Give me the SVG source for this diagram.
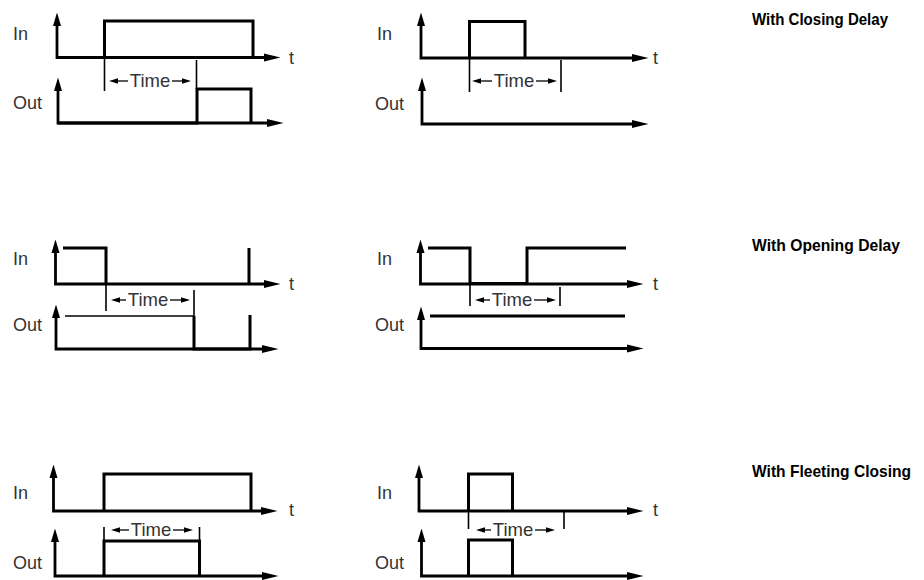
<svg xmlns="http://www.w3.org/2000/svg" width="924" height="580" viewBox="0 0 924 580">
<style>
.lbl{font-family:"Liberation Sans",Arial,sans-serif;font-size:18px;fill:#333}
.tm{font-family:"Liberation Sans",Arial,sans-serif;font-size:18.5px;fill:#333;text-anchor:middle}
.ttl{font-family:"Liberation Sans",Arial,sans-serif;font-size:16.5px;font-weight:bold;fill:#000}
.ax{fill:none;stroke:#000;stroke-width:2.8;stroke-linejoin:miter;marker-start:url(#av);marker-end:url(#ah)}
.sig{fill:none;stroke:#000;stroke-width:3;stroke-linejoin:miter}
.thin{fill:none;stroke:#000;stroke-width:1.4}
.mk{fill:none;stroke:#000;stroke-width:1.6}
.ta{fill:none;stroke:#000;stroke-width:1.3;marker-end:url(#at)}
</style>
<defs>
<marker id="ah" markerUnits="userSpaceOnUse" viewBox="0 -5 17 10" markerWidth="17" markerHeight="10" refX="0" refY="0" orient="auto"><path d="M0,-4 L16.5,0 L0,4 Z" fill="#000"/></marker>
<marker id="av" markerUnits="userSpaceOnUse" viewBox="0 -5 14 10" markerWidth="14" markerHeight="10" refX="0" refY="0" orient="auto-start-reverse"><path d="M0,-4 L13.5,0 L0,4 Z" fill="#000"/></marker>
<marker id="at" markerUnits="userSpaceOnUse" viewBox="0 -4 10 8" markerWidth="10" markerHeight="8" refX="0" refY="0" orient="auto"><path d="M0,-2.8 L9,0 L0,2.8 Z" fill="#000"/></marker>
</defs>

<g id="titles">
<text class="ttl" x="752" y="24.5" textLength="136" lengthAdjust="spacingAndGlyphs">With Closing Delay</text>
<text class="ttl" x="752" y="250.5" textLength="148" lengthAdjust="spacingAndGlyphs">With Opening Delay</text>
<text class="ttl" x="752" y="476.5" textLength="159" lengthAdjust="spacingAndGlyphs">With Fleeting Closing</text>
</g>

<g id="closing-delay-1">
<text class="lbl" x="13" y="40">In</text>
<text class="lbl" x="13" y="109">Out</text>
<text class="lbl" x="289" y="64">t</text>
<path class="ax" d="M57,26 V57.5 H264"/>
<path class="ax" d="M58,91 V123 H267"/>
<path class="sig" d="M104.5,57.5 V21 H253 V57.5"/>
<path class="sig" d="M58,123 H197 V89 H251 V123"/>
<path class="mk" d="M104.5,57.5 V91 M196.5,60 V89"/>
<text class="tm" x="150" y="87">Time</text>
<path class="ta" d="M128,81 H118"/>
<path class="ta" d="M172,81 H182"/>
</g>

<g id="closing-delay-2">
<text class="lbl" x="377" y="40">In</text>
<text class="lbl" x="375" y="110">Out</text>
<text class="lbl" x="653" y="64">t</text>
<path class="ax" d="M421,26 V58 H632"/>
<path class="ax" d="M422,91 V124 H632"/>
<path class="sig" d="M469.5,58 V21.5 H525 V58"/>
<path class="mk" d="M469.5,58 V92 M561,60 V92"/>
<text class="tm" x="514" y="87">Time</text>
<path class="ta" d="M492,81 H481"/>
<path class="ta" d="M536,81 H548"/>
</g>

<g id="opening-delay-1">
<text class="lbl" x="13" y="265">In</text>
<text class="lbl" x="13" y="331">Out</text>
<text class="lbl" x="289" y="290">t</text>
<path class="ax" d="M55.5,253 V284 H264"/>
<path class="ax" d="M56,318 V349 H262"/>
<path class="sig" d="M63,248 H106 V284 M249,284 V248"/>
<path class="mk" d="M106,284 V311 M194,290 V316"/>
<path class="thin" d="M65,316 H194"/>
<path class="sig" d="M194,316 V349 H250 V315"/>
<text class="tm" x="148" y="306">Time</text>
<path class="ta" d="M126,300 H120"/>
<path class="ta" d="M170,300 H181"/>
</g>

<g id="opening-delay-2">
<text class="lbl" x="377" y="265">In</text>
<text class="lbl" x="375" y="331">Out</text>
<text class="lbl" x="653" y="290">t</text>
<path class="ax" d="M420.5,253 V284 H627"/>
<path class="ax" d="M421,320 V348.5 H627"/>
<path class="sig" d="M428,248 H470 V283.5 H527 V248 H626"/>
<path class="mk" d="M470,284 V306 M560,287 V306"/>
<path class="sig" d="M430,316 H625"/>
<text class="tm" x="512" y="306">Time</text>
<path class="ta" d="M490,300 H484"/>
<path class="ta" d="M534,300 H547"/>
</g>

<g id="fleeting-closing-1">
<text class="lbl" x="13" y="499">In</text>
<text class="lbl" x="13" y="569">Out</text>
<text class="lbl" x="289" y="516">t</text>
<path class="ax" d="M53.5,478 V511 H261"/>
<path class="ax" d="M55,542 V576 H262"/>
<path class="sig" d="M104,511 V474 H251 V511"/>
<path class="mk" d="M104,527 V541 M199.5,527 V541"/>
<path class="sig" d="M104,576 V541 H199.5 V576"/>
<text class="tm" x="151" y="536">Time</text>
<path class="ta" d="M129,530 H120"/>
<path class="ta" d="M173,530 H184"/>
</g>

<g id="fleeting-closing-2">
<text class="lbl" x="377" y="499">In</text>
<text class="lbl" x="375" y="569">Out</text>
<text class="lbl" x="653" y="516">t</text>
<path class="ax" d="M419,478 V511 H627"/>
<path class="ax" d="M421.5,542 V576 H627"/>
<path class="sig" d="M468.5,511 V474 H512.5 V511"/>
<path class="mk" d="M468.5,511 V529 M564,511 V529"/>
<path class="sig" d="M468.5,576 V540 H512.5 V576"/>
<text class="tm" x="513" y="536">Time</text>
<path class="ta" d="M491,530 H485"/>
<path class="ta" d="M535,530 H546"/>
</g>
</svg>
